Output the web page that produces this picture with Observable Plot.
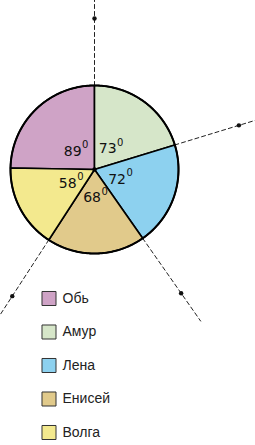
<!DOCTYPE html>
<html><head><meta charset="utf-8">
<script src="https://cdn.jsdelivr.net/npm/d3@7"></script>
<script src="https://cdn.jsdelivr.net/npm/@observablehq/plot@0.6"></script>
<style>html,body{margin:0;padding:0;background:#fff;} svg{display:block}</style>
</head><body><div id="chart"></div>
<script>
const rivers = ["Обь", "Амур", "Лена", "Енисей", "Волга"];
const degrees = [89, 73, 72, 68, 58];
const colors = ["#cfa3c6", "#d6e6c9", "#8dd1ef", "#e1ca8b", "#f3e98e"];
const unitMark = "0";

const W = 255, H = 445, cx = 94, cy = 169, R = 84;
const rad = a => a * Math.PI / 180;
const pt = (a, r) => ({x: cx + r * Math.sin(rad(a)), y: cy - r * Math.cos(rad(a))});

let acc = -degrees[0];
const slices = rivers.map((name, i) => {
  const s = acc; acc += degrees[i];
  return {name, value: degrees[i], start: s, end: acc, mid: (s + acc) / 2, i};
});

const slicePts = slices.flatMap(s => {
  const pts = [{name: s.name, ...pt(0, 0)}];
  const n = Math.max(2, Math.ceil(s.end - s.start));
  for (let k = 0; k <= n; k++) pts.push({name: s.name, ...pt(s.start + (s.end - s.start) * k / n, R)});
  pts.push({name: s.name, ...pt(0, 0)});
  return pts;
});
const circlePts = d3.range(0, 361, 1).map(a => pt(a, R));
const rays = slices.slice(1).flatMap(s => [{id: s.name, ...pt(s.start, R)}, {id: s.name, ...pt(s.start, 185)}]);
const rayDots = slices.slice(1).map(s => pt(s.start, 151));
const labels = slices.map(s => ({...s, ...pt(s.mid, 27)}));
const legend = slices.map(s => ({name: s.name, x: 48.5, y: 298 + s.i * 33.5}));

const chart = Plot.plot({
  width: W, height: H, margin: 0,
  x: {domain: [0, W], range: [0, W], axis: null},
  y: {domain: [0, H], range: [0, H], axis: null},
  color: {domain: rivers, range: colors},
  marks: [
    Plot.line(rays, {x: "x", y: "y", z: "id", stroke: "#222", strokeWidth: 1, strokeDasharray: "4,3"}),
    Plot.dot(rayDots, {x: "x", y: "y", r: 2.2, fill: "#111", stroke: "none"}),
    Plot.line(slicePts, {x: "x", y: "y", z: "name", fill: "name", stroke: "#000", strokeWidth: 1.6, curve: "linear"}),
    Plot.line(circlePts, {x: "x", y: "y", stroke: "#000", strokeWidth: 2, fill: "none"}),
    Plot.dot([pt(0, 0)], {x: "x", y: "y", r: 2.2, fill: "#000"}),
    Plot.text(labels, {x: "x", y: "y", text: d => String(d.value), textAnchor: "end", dx: 6, dy: 1, fontSize: 14, fontFamily: "DejaVu Sans", fill: "#111"}),
    Plot.text(labels, {x: "x", y: "y", text: () => unitMark, textAnchor: "start", dx: 6.5, dy: -5, fontSize: 10, fontFamily: "DejaVu Sans", fill: "#111"}),
    Plot.dot(legend, {x: "x", y: "y", symbol: "square", r: 7.9, fill: "name", stroke: "#333", strokeWidth: 1}),
    Plot.text(legend, {x: "x", y: "y", text: "name", dx: 13.5, textAnchor: "start", fontSize: 14, fontFamily: "Liberation Sans, Arial", fill: "#222"})
  ]
});
document.getElementById("chart").appendChild(chart);
</script>
</body></html>
